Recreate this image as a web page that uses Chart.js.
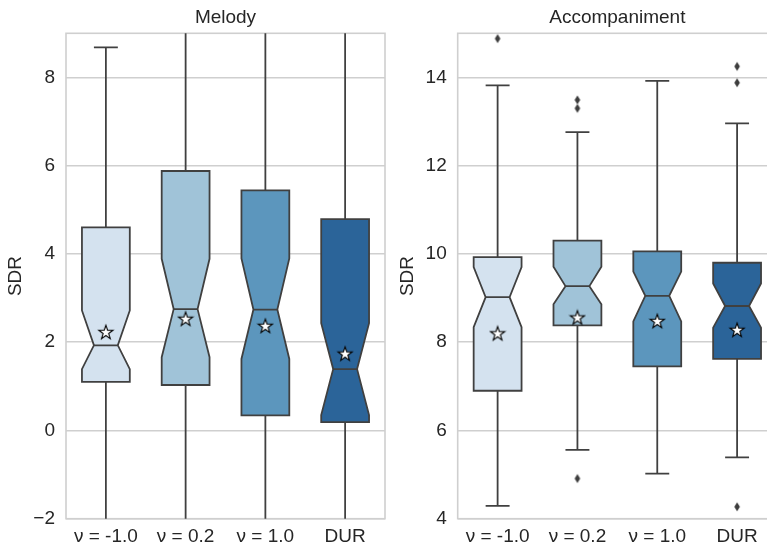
<!DOCTYPE html>
<html>
<head>
<meta charset="utf-8">
<script src="https://cdn.jsdelivr.net/npm/chart.js@4.4.1/dist/chart.umd.min.js"></script>
<style>
  html, body { margin: 0; padding: 0; background: #ffffff; overflow: hidden; }
  #wrap { position: relative; width: 767px; height: 545px; overflow: hidden; background: #ffffff; }
  canvas { position: absolute; top: 0; }
  #melody { left: 0; }
  #accomp { left: 392px; }
</style>
</head>
<body>
<div id="wrap">
  <canvas id="melody" width="390" height="545"></canvas>
  <canvas id="accomp" width="400" height="545"></canvas>
</div>
<script>
// Systems compared on each source
const categories = ['ν = -1.0', 'ν = 0.2', 'ν = 1.0', 'DUR'];
const boxColors = ['#d4e2ef', '#a0c3d8', '#5c96bd', '#2b6499'];

// Melody SDR summary statistics
const melodyQ1 = [1.10, 1.03, 0.34, 0.19];
const melodyMedian = [1.93, 2.75, 2.74, 1.39];
const melodyQ3 = [4.60, 5.88, 5.44, 4.79];
const melodyNotchLow = [1.39, 1.66, 1.62, 0.35];
const melodyNotchHigh = [2.72, 3.89, 3.90, 2.43];
const melodyWhiskerLow = [-4.6, -4.2, -5.2, -5.4];
const melodyWhiskerHigh = [8.68, 10.7, 10.4, 10.0];
const melodyMean = [2.23, 2.53, 2.37, 1.74];
const melodyOutlierCats = [];
const melodyOutlierValues = [];
const melodyTicks = [-2, 0, 2, 4, 6, 8];
const melodyRange = [-2, 9];

// Accompaniment SDR summary statistics
const accompQ1 = [6.90, 8.38, 7.45, 7.62];
const accompMedian = [9.02, 9.27, 9.05, 8.82];
const accompQ3 = [9.93, 10.30, 10.06, 9.80];
const accompNotchLow = [8.34, 8.86, 8.47, 8.33];
const accompNotchHigh = [9.70, 9.71, 9.60, 9.33];
const accompWhiskerLow = [4.29, 5.56, 5.02, 5.39];
const accompWhiskerHigh = [13.82, 12.76, 13.92, 12.96];
const accompMean = [8.20, 8.56, 8.48, 8.28];
const accompOutlierCats = [0, 1, 1, 1, 3, 3, 3];
const accompOutlierValues = [14.88, 13.49, 13.30, 4.91, 14.25, 13.88, 4.27];
const accompTicks = [4, 6, 8, 10, 12, 14];
const accompRange = [4, 15];

const EDGE = '#404040';
const GRID = '#cfcfcf';
const TEXT = '#262626';
const FONT = "'Liberation Sans', Arial, sans-serif";
const FS = 19;

// Marker sprites: white star for means, thin diamond for fliers
function makeStar() {
  const c = document.createElement('canvas');
  c.width = 18; c.height = 18;
  const g = c.getContext('2d');
  const cx = 9, cy = 9.6, ro = 7.4, ri = 2.9;
  g.beginPath();
  for (let k = 0; k < 10; k++) {
    const r = k % 2 === 0 ? ro : ri;
    const a = -Math.PI / 2 + k * Math.PI / 5;
    const px = cx + r * Math.cos(a), py = cy + r * Math.sin(a);
    if (k === 0) g.moveTo(px, py); else g.lineTo(px, py);
  }
  g.closePath();
  g.fillStyle = '#ffffff';
  g.fill();
  g.lineWidth = 1.1;
  g.strokeStyle = '#000000';
  g.stroke();
  return c;
}
function makeDiamond() {
  const c = document.createElement('canvas');
  c.width = 8; c.height = 12;
  const g = c.getContext('2d');
  g.beginPath();
  g.moveTo(4, 1.4); g.lineTo(6.8, 6); g.lineTo(4, 10.6); g.lineTo(1.2, 6);
  g.closePath();
  g.fillStyle = '#3d3d3d';
  g.fill();
  return c;
}
const starSprite = makeStar();
const diamondSprite = makeDiamond();

// Notched boxes, whiskers and caps drawn on the chart's own scales
const notchedBoxes = {
  id: 'notchedBoxes',
  beforeDatasetsDraw(chart, args, opts) {
    const { ctx, chartArea: a, scales: { x, y } } = chart;
    const st = opts.stats;
    ctx.save();
    // axes frame (all four spines)
    ctx.strokeStyle = GRID;
    ctx.lineWidth = 1.6;
    ctx.strokeRect(a.left, a.top, a.right - a.left, a.bottom - a.top);
    ctx.beginPath();
    ctx.rect(a.left, a.top, a.right - a.left, a.bottom - a.top);
    ctx.clip();
    const band = x.getPixelForValue(1) - x.getPixelForValue(0);
    const w = band * 0.6;
    ctx.lineWidth = 1.8;
    ctx.strokeStyle = EDGE;
    ctx.lineJoin = 'miter';
    for (let i = 0; i < categories.length; i++) {
      const cx = x.getPixelForValue(i);
      const L = cx - w / 2, R = cx + w / 2, nL = cx - w / 4, nR = cx + w / 4;
      const q1 = y.getPixelForValue(st.q1[i]);
      const q3 = y.getPixelForValue(st.q3[i]);
      const med = y.getPixelForValue(st.median[i]);
      const lo = y.getPixelForValue(st.notchLow[i]);
      const hi = y.getPixelForValue(st.notchHigh[i]);
      const wl = y.getPixelForValue(st.whiskerLow[i]);
      const wh = y.getPixelForValue(st.whiskerHigh[i]);
      // whiskers and caps
      ctx.beginPath();
      ctx.moveTo(cx, q3); ctx.lineTo(cx, wh);
      ctx.moveTo(cx - w / 4, wh); ctx.lineTo(cx + w / 4, wh);
      ctx.moveTo(cx, q1); ctx.lineTo(cx, wl);
      ctx.moveTo(cx - w / 4, wl); ctx.lineTo(cx + w / 4, wl);
      ctx.stroke();
      // notched box
      ctx.beginPath();
      ctx.moveTo(L, q1); ctx.lineTo(R, q1); ctx.lineTo(R, lo); ctx.lineTo(nR, med);
      ctx.lineTo(R, hi); ctx.lineTo(R, q3); ctx.lineTo(L, q3); ctx.lineTo(L, hi);
      ctx.lineTo(nL, med); ctx.lineTo(L, lo); ctx.closePath();
      ctx.fillStyle = boxColors[i];
      ctx.fill();
      ctx.stroke();
      // median
      ctx.beginPath();
      ctx.moveTo(nL, med); ctx.lineTo(nR, med);
      ctx.stroke();
    }
    ctx.restore();
  }
};

function fmt(v) { return v < 0 ? '\u2212' + Math.abs(v) : String(v); }

function buildChart(id, title, stats, means, outCats, outVals, ticks, range, yWidth, padRight) {
  const meanData = means.map((v, i) => ({ x: categories[i], y: v }));
  const outData = outVals.map((v, k) => ({ x: categories[outCats[k]], y: v }));
  return new Chart(document.getElementById(id), {
    type: 'line',
    data: {
      labels: categories,
      datasets: [
        { label: 'fliers', data: outData, showLine: false, pointStyle: diamondSprite, pointRadius: 4, clip: false },
        { label: 'mean', data: meanData, showLine: false, pointStyle: starSprite, pointRadius: 7 }
      ]
    },
    options: {
      responsive: false,
      animation: false,
      events: [],
      layout: { autoPadding: false, padding: { left: 0, right: padRight, top: 0, bottom: 0 } },
      plugins: {
        legend: { display: false },
        tooltip: { enabled: false },
        title: {
          display: true, text: title, color: TEXT, fullSize: false,
          font: { family: FONT, size: FS, weight: 'normal' },
          padding: { top: 6, bottom: 4.5 }
        },
        notchedBoxes: { stats }
      },
      scales: {
        x: {
          type: 'category', offset: true,
          grid: { display: false, drawTicks: false },
          border: { display: false },
          ticks: { color: TEXT, padding: 7, font: { family: FONT, size: FS } },
          afterFit(s) { s.height = 26.3; s.paddingLeft = 0; s.paddingRight = 0; }
        },
        y: {
          min: range[0], max: range[1],
          afterBuildTicks(s) { s.ticks = ticks.map(v => ({ value: v })); },
          grid: { color: GRID, lineWidth: 1.4, drawTicks: false },
          border: { display: false },
          ticks: { color: TEXT, padding: 11, font: { family: FONT, size: FS }, callback: v => fmt(v) },
          title: { display: true, text: 'SDR', color: TEXT, font: { family: FONT, size: FS }, padding: { top: 4.6, bottom: 0 } },
          afterFit(s) { s.width = yWidth; }
        }
      }
    },
    plugins: [notchedBoxes]
  });
}

buildChart('melody', 'Melody',
  { q1: melodyQ1, median: melodyMedian, q3: melodyQ3, notchLow: melodyNotchLow, notchHigh: melodyNotchHigh,
    whiskerLow: melodyWhiskerLow, whiskerHigh: melodyWhiskerHigh },
  melodyMean, melodyOutlierCats, melodyOutlierValues, melodyTicks, melodyRange, 66, 5);

buildChart('accomp', 'Accompaniment',
  { q1: accompQ1, median: accompMedian, q3: accompQ3, notchLow: accompNotchLow, notchHigh: accompNotchHigh,
    whiskerLow: accompWhiskerLow, whiskerHigh: accompWhiskerHigh },
  accompMean, accompOutlierCats, accompOutlierValues, accompTicks, accompRange, 65.7, 15);
</script>
</body>
</html>
